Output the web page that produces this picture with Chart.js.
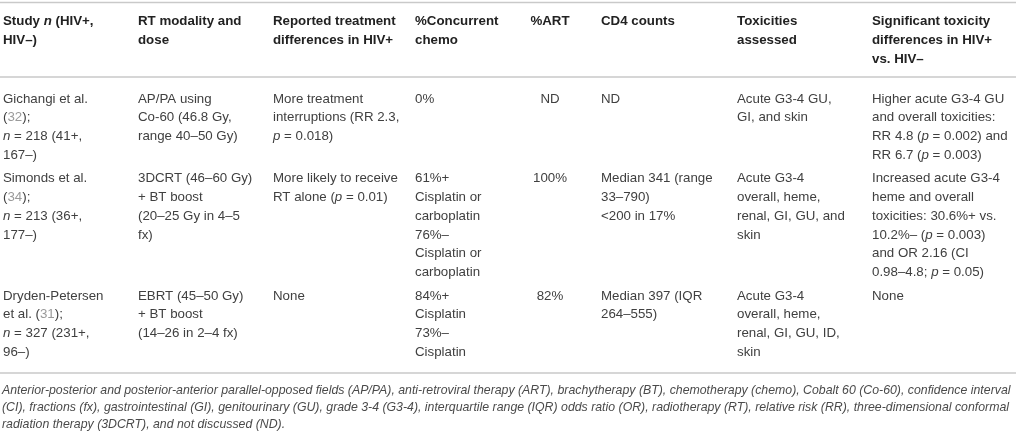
<!DOCTYPE html>
<html>
<head>
<meta charset="utf-8">
<script src="https://cdn.jsdelivr.net/npm/chart.js@4.4.1/dist/chart.umd.min.js"></script>
<style>
  html, body { margin: 0; padding: 0; background: #fff; }
  canvas { display: block; }
</style>
</head>
<body>
<canvas id="tableChart" width="1016" height="431"></canvas>
<script>
// Cell text, one string per printed line.  _x_ = italic, {n} = reference number
const headerCells = [
    ['Study _n_ (HIV+,', 'HIV–)'],
    ['RT modality and', 'dose'],
    ['Reported treatment', 'differences in HIV+'],
    ['%Concurrent', 'chemo'],
    ['%ART'],
    ['CD4 counts'],
    ['Toxicities', 'assessed'],
    ['Significant toxicity', 'differences in HIV+', 'vs. HIV–']
];

const gichangiCells = [
    ['Gichangi et al.', '({32});', '_n_ = 218 (41+,', '167–)'],
    ['AP/PA using', 'Co-60 (46.8 Gy,', 'range 40–50 Gy)'],
    ['More treatment', 'interruptions (RR 2.3,', '_p_ = 0.018)'],
    ['0%'],
    ['ND'],
    ['ND'],
    ['Acute G3-4 GU,', 'GI, and skin'],
    ['Higher acute G3-4 GU', 'and overall toxicities:', 'RR 4.8 (_p_ = 0.002) and', 'RR 6.7 (_p_ = 0.003)']
];

const simondsCells = [
    ['Simonds et al.', '({34});', '_n_ = 213 (36+,', '177–)'],
    ['3DCRT (46–60 Gy)', '+ BT boost', '(20–25 Gy in 4–5', 'fx)'],
    ['More likely to receive', 'RT alone (_p_ = 0.01)'],
    ['61%+', 'Cisplatin or', 'carboplatin', '76%–', 'Cisplatin or', 'carboplatin'],
    ['100%'],
    ['Median 341 (range', '33–790)', '<200 in 17%'],
    ['Acute G3-4', 'overall, heme,', 'renal, GI, GU, and', 'skin'],
    ['Increased acute G3-4', 'heme and overall', 'toxicities: 30.6%+ vs.', '10.2%– (_p_ = 0.003)', 'and OR 2.16 (CI', '0.98–4.8; _p_ = 0.05)']
];

const drydenCells = [
    ['Dryden-Petersen', 'et al. ({31});', '_n_ = 327 (231+,', '96–)'],
    ['EBRT (45–50 Gy)', '+ BT boost', '(14–26 in 2–4 fx)'],
    ['None'],
    ['84%+', 'Cisplatin', '73%–', 'Cisplatin'],
    ['82%'],
    ['Median 397 (IQR', '264–555)'],
    ['Acute G3-4', 'overall, heme,', 'renal, GI, GU, ID,', 'skin'],
    ['None']
];

const footnoteLines = [
    'Anterior-posterior and posterior-anterior parallel-opposed fields (AP/PA), anti-retroviral therapy (ART), brachytherapy (BT), chemotherapy (chemo), Cobalt 60 (Co-60), confidence interval',
    '(CI), fractions (fx), gastrointestinal (GI), genitourinary (GU), grade 3-4 (G3-4), interquartile range (IQR) odds ratio (OR), radiotherapy (RT), relative risk (RR), three-dimensional conformal',
    'radiation therapy (3DCRT), and not discussed (ND).'
];

const bodyRows = [gichangiCells, simondsCells, drydenCells];

// layout
const colX = [3, 138, 273, 415, 550, 601, 737, 872];
const colAlign = ['left', 'left', 'left', 'left', 'center', 'left', 'left', 'left'];
const headerTop = 21;
const headerStep = 19;
const bodyTop = 99;
const lineStep = 18.7;
const rowGap = 5;
const rules = [2.5, 77, 373];
const footTop = 390.5;
const footStep = 16.8;
const footWidth = 1009;
const fontSize = 13.3;
const family = '"Liberation Sans", Arial, sans-serif';

// one point per printed line; the plugin writes the text at the point
const points = [];
headerCells.forEach((lines, c) => {
    lines.forEach((txt, i) => {
        points.push({ x: colX[c], y: headerTop + i * headerStep, txt: txt, col: c, kind: 'head' });
    });
});
let rowY = bodyTop;
bodyRows.forEach(row => {
    let rowLines = 0;
    row.forEach((lines, c) => {
        lines.forEach((txt, i) => {
            points.push({ x: colX[c], y: rowY + i * lineStep, txt: txt, col: c, kind: 'body' });
        });
        rowLines = Math.max(rowLines, lines.length);
    });
    rowY += rowLines * lineStep + rowGap;
});

function drawRich(ctx, str, x, y, weight, align) {
    const parts = str.split(/(_[^_]+_|\{[^}]+\})/).filter(p => p.length);
    const plain = weight + ' ' + fontSize + 'px ' + family;
    const runs = parts.map(p => {
        if (p.startsWith('_')) return { t: p.slice(1, -1), font: 'italic ' + plain, color: null };
        if (p.startsWith('{')) return { t: p.slice(1, -1), font: plain, color: '#9a9a9a' };
        return { t: p, font: plain, color: null };
    });
    let total = 0;
    runs.forEach(r => { ctx.font = r.font; r.w = ctx.measureText(r.t).width; total += r.w; });
    let cx = align === 'center' ? x - total / 2 : x;
    const base = ctx.fillStyle;
    runs.forEach(r => {
        ctx.font = r.font;
        ctx.fillStyle = r.color || base;
        ctx.fillText(r.t, cx, y);
        cx += r.w;
    });
    ctx.fillStyle = base;
}

const tablePlugin = {
    id: 'tableText',
    afterDatasetsDraw(chart) {
        const ctx = chart.ctx;
        const xs = chart.scales.x;
        const ys = chart.scales.y;
        ctx.save();

        ctx.strokeStyle = '#c9c9c9';
        ctx.lineWidth = 1.5;
        rules.forEach(v => {
            const py = ys.getPixelForValue(v);
            ctx.beginPath();
            ctx.moveTo(xs.getPixelForValue(0), py);
            ctx.lineTo(xs.getPixelForValue(1016), py);
            ctx.stroke();
        });

        ctx.textBaseline = 'middle';
        const meta = chart.getDatasetMeta(0);
        meta.data.forEach((el, i) => {
            const p = points[i];
            if (p.kind === 'head') {
                ctx.fillStyle = '#222';
                drawRich(ctx, p.txt, el.x, el.y, 'bold', colAlign[p.col]);
            } else {
                ctx.fillStyle = '#404040';
                drawRich(ctx, p.txt, el.x, el.y, 'normal', colAlign[p.col]);
            }
        });

        // footnote: size picked so the first line fills the width
        ctx.font = 'italic 12px ' + family;
        const size = 12 * footWidth / ctx.measureText(footnoteLines[0]).width;
        ctx.font = 'italic ' + size.toFixed(2) + 'px ' + family;
        ctx.fillStyle = '#4a4a4a';
        footnoteLines.forEach((txt, i) => {
            const py = ys.getPixelForValue(footTop + i * footStep);
            const x0 = xs.getPixelForValue(2);
            if (i < footnoteLines.length - 1) {
                ctx.fillText(txt, x0, py, footWidth);
            } else {
                ctx.fillText(txt, x0, py);
            }
        });
        ctx.restore();
    }
};

new Chart(document.getElementById('tableChart').getContext('2d'), {
    type: 'scatter',
    data: {
        datasets: [{
            data: points.map(p => ({ x: p.x, y: p.y })),
            pointRadius: 0,
            pointHoverRadius: 0
        }]
    },
    options: {
        responsive: false,
        animation: false,
        events: [],
        layout: { padding: 0 },
        plugins: {
            legend: { display: false },
            tooltip: { enabled: false }
        },
        scales: {
            x: { type: 'linear', min: 0, max: 1016, display: false },
            y: { type: 'linear', min: 0, max: 431, reverse: true, display: false }
        }
    },
    plugins: [tablePlugin]
});
</script>
</body>
</html>
